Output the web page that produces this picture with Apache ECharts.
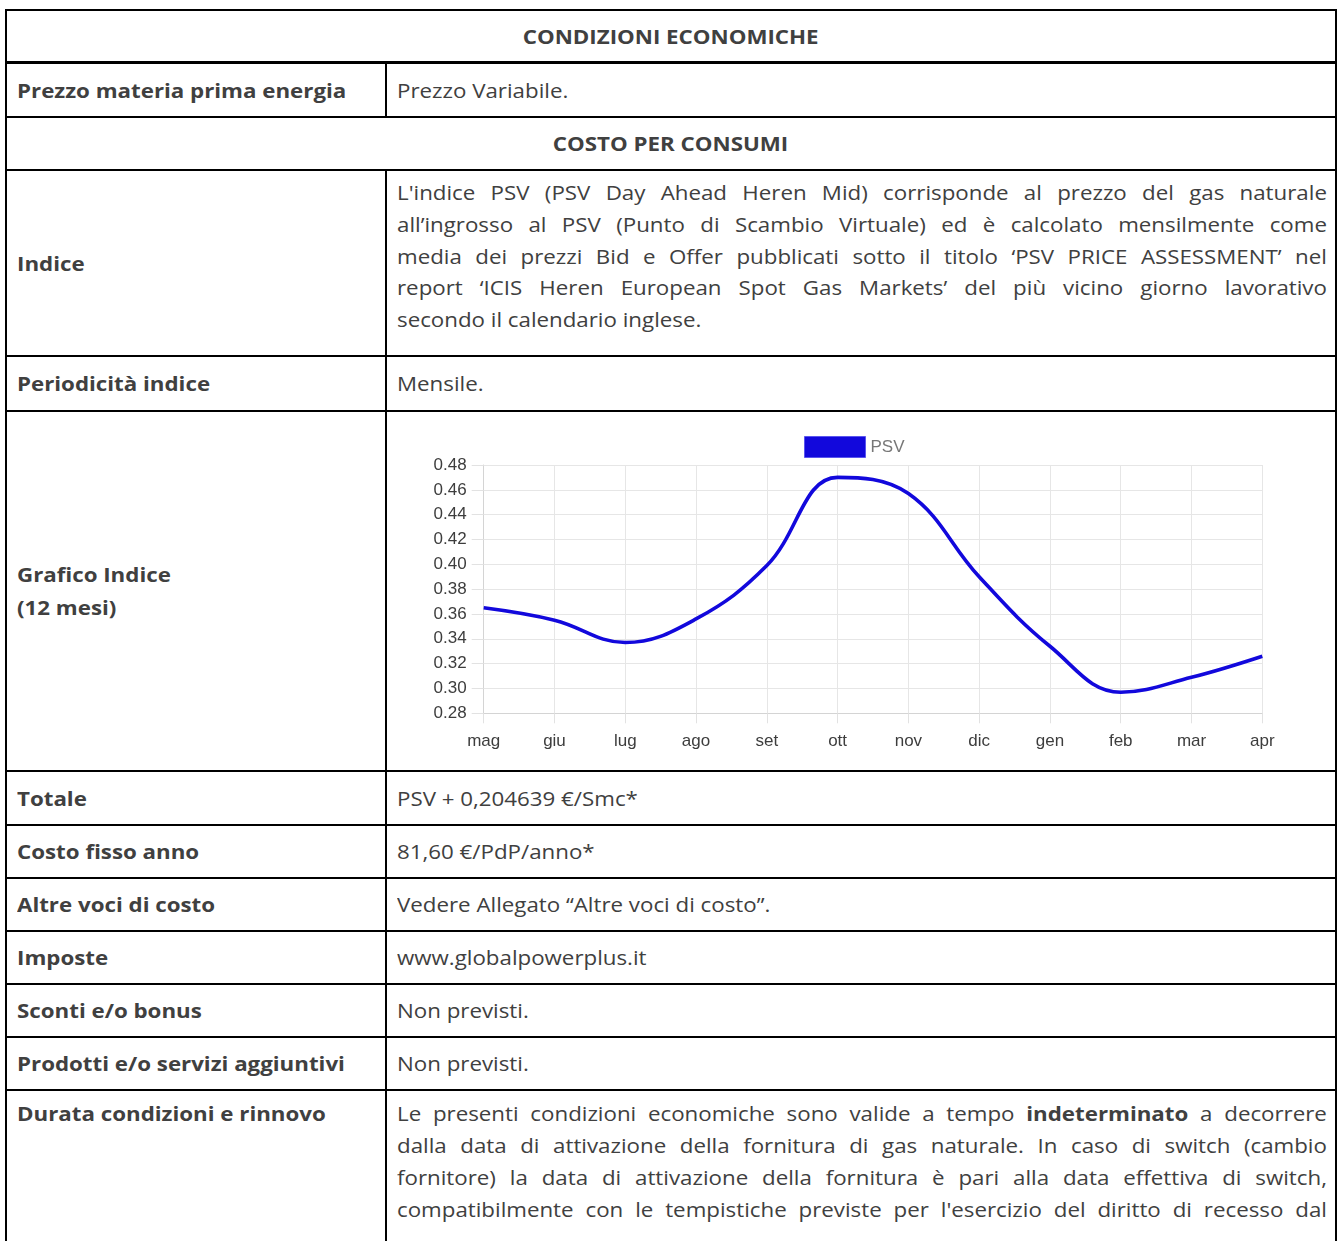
<!DOCTYPE html>
<html lang="it">
<head>
<meta charset="utf-8">
<script src="https://cdn.jsdelivr.net/npm/echarts@6/dist/echarts.min.js"></script>
<style>
  html, body { margin: 0; padding: 0; background: #fff; width: 1338px; height: 1241px; overflow: hidden; }
  body { font-family: "Open Sans", "Noto Sans", sans-serif; font-size: 20px; color: #404040; }
  #doc { position: absolute; left: 5px; top: 9px; width: 1332px; border: 2px solid #000; border-bottom: none; box-sizing: border-box; }
  .row { display: flex; border-bottom: 2px solid #000; box-sizing: content-box; }
  .row.thick { border-bottom-width: 3px; }
  .head { width: 100%; font-weight: bold; text-align: center; display: flex; align-items: center; justify-content: center; }
  .l { width: 380px; border-right: 2px solid #000; padding-left: 10px; box-sizing: border-box; font-weight: bold; display: flex; align-items: center; flex: none; }
  .r { flex: 1; padding: 0 9px 0 10px; box-sizing: border-box; display: flex; align-items: center; position: relative; }
  .top { align-items: flex-start; }
  .t { display: inline-block; white-space: nowrap; transform: scaleX(1.115); transform-origin: left center; }
  .head .t { transform-origin: center center; }
  .just { display: block; width: 834px; transform: scaleX(1.115); transform-origin: left top; }
  .just span { display: block; white-space: nowrap; text-align: justify; text-align-last: justify; }
  .just span.last { text-align-last: left; }
  #chart { position: absolute; left: 0; top: 0; width: 946px; height: 358px; }
</style>
</head>
<body>
<div id="doc">
  <div class="row thick" style="height:50px"><div class="head"><span class="t">CONDIZIONI ECONOMICHE</span></div></div>
  <div class="row" style="height:52px"><div class="l"><span class="t">Prezzo materia prima energia</span></div><div class="r"><span class="t">Prezzo Variabile.</span></div></div>
  <div class="row" style="height:51px"><div class="head"><span class="t">COSTO PER CONSUMI</span></div></div>
  <div class="row" style="height:184px"><div class="l"><span class="t">Indice</span></div>
    <div class="r top" style="padding-top:6px; line-height:31.8px;"><div class="just">
      <span>L'indice PSV (PSV Day Ahead Heren Mid) corrisponde al prezzo del gas naturale</span>
      <span>all’ingrosso al PSV (Punto di Scambio Virtuale) ed è calcolato mensilmente come</span>
      <span>media dei prezzi Bid e Offer pubblicati sotto il titolo ‘PSV PRICE ASSESSMENT’ nel</span>
      <span>report ‘ICIS Heren European Spot Gas Markets’ del più vicino giorno lavorativo</span>
      <span class="last">secondo il calendario inglese.</span>
    </div></div>
  </div>
  <div class="row" style="height:53px"><div class="l"><span class="t">Periodicità indice</span></div><div class="r"><span class="t">Mensile.</span></div></div>
  <div class="row" style="height:358px"><div class="l" style="line-height:33px;"><span class="t">Grafico Indice<br>(12 mesi)</span></div>
    <div class="r" style="padding:0"><div id="chart"></div></div></div>
  <div class="row" style="height:52px"><div class="l"><span class="t">Totale</span></div><div class="r"><span class="t">PSV + 0,204639 €/Smc*</span></div></div>
  <div class="row" style="height:51px"><div class="l"><span class="t">Costo fisso anno</span></div><div class="r"><span class="t">81,60 €/PdP/anno*</span></div></div>
  <div class="row" style="height:51px"><div class="l"><span class="t">Altre voci di costo</span></div><div class="r"><span class="t">Vedere Allegato “Altre voci di costo”.</span></div></div>
  <div class="row" style="height:51px"><div class="l"><span class="t">Imposte</span></div><div class="r"><span class="t">www.globalpowerplus.it</span></div></div>
  <div class="row" style="height:51px"><div class="l"><span class="t">Sconti e/o bonus</span></div><div class="r"><span class="t">Non previsti.</span></div></div>
  <div class="row" style="height:51px"><div class="l"><span class="t">Prodotti e/o servizi aggiuntivi</span></div><div class="r"><span class="t">Non previsti.</span></div></div>
  <div class="row" style="height:200px"><div class="l top" style="padding-top:7px; line-height:32px;"><span class="t">Durata condizioni e rinnovo</span></div>
    <div class="r top" style="padding-top:7px; line-height:32px;"><div class="just">
      <span>Le presenti condizioni economiche sono valide a tempo <b>indeterminato</b> a decorrere</span>
      <span>dalla data di attivazione della fornitura di gas naturale. In caso di switch (cambio</span>
      <span>fornitore) la data di attivazione della fornitura è pari alla data effettiva di switch,</span>
      <span>compatibilmente con le tempistiche previste per l'esercizio del diritto di recesso dal</span>
    </div></div>
  </div>
</div>
<script>
const months = ['mag', 'giu', 'lug', 'ago', 'set', 'ott', 'nov', 'dic', 'gen', 'feb', 'mar', 'apr'];
const psvValues = [0.365, 0.355, 0.337, 0.356, 0.399, 0.470, 0.457, 0.390, 0.334, 0.297, 0.309, 0.326];
const seriesName = 'PSV';
const yMin = 0.28, yMax = 0.48, yStep = 0.02;

const chart = echarts.init(document.getElementById('chart'), null, { renderer: 'canvas' });
const labelFont = { fontFamily: 'Liberation Sans, Arial, sans-serif', fontSize: 17, color: '#3d3d3d' };
chart.setOption({
  animation: false,
  legend: {
    data: [seriesName],
    left: 412, top: 19,
    icon: 'rect', itemWidth: 61, itemHeight: 21,
    itemStyle: { color: '#1208dc', borderColor: '#5a55ee', borderWidth: 1 },
    textStyle: { fontFamily: 'Liberation Sans, Arial, sans-serif', fontSize: 17, color: '#777', padding: [0, 0, 0, 0] }
  },
  grid: { left: 96.7, right: 70.7, top: 53, bottom: 56.7, containLabel: false },
  xAxis: {
    type: 'category', data: months, boundaryGap: false,
    axisLine: { show: true, lineStyle: { color: '#d4d4d4', width: 1 } },
    axisTick: { show: true, length: 10, alignWithLabel: true, lineStyle: { color: '#e2e2e2' } },
    axisLabel: Object.assign({ margin: 20 }, labelFont),
    splitLine: { show: true, lineStyle: { color: '#e6e6e6', width: 1 } }
  },
  yAxis: {
    type: 'value', min: yMin, max: yMax, interval: yStep,
    axisLine: { show: true, lineStyle: { color: '#d4d4d4', width: 1 } },
    axisTick: { show: true, length: 12, lineStyle: { color: '#e2e2e2' } },
    axisLabel: Object.assign({ margin: 17, formatter: v => v.toFixed(2) }, labelFont),
    splitLine: { show: true, lineStyle: { color: '#e6e6e6', width: 1 } }
  },
  series: [{
    name: seriesName, type: 'line', data: psvValues,
    smooth: 0.4, symbol: 'none',
    lineStyle: { color: '#1208dc', width: 3.6 },
    itemStyle: { color: '#1208dc' }
  }]
});
</script>
</body>
</html>
